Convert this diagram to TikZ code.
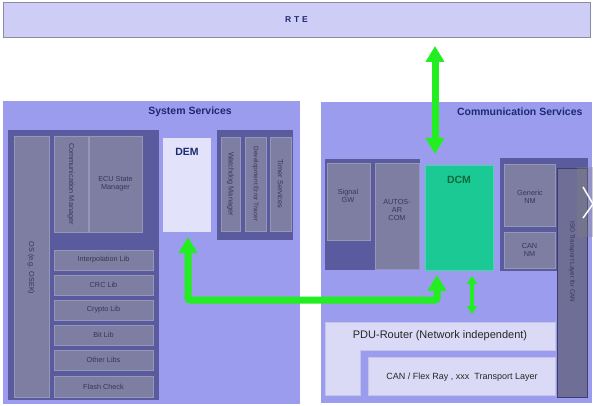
\documentclass[tikz,border=0pt]{standalone}
\usepackage{fontspec}
\setmainfont{Liberation Sans}
\usetikzlibrary{arrows.meta,calc}
\definecolor{lav}{HTML}{9C9CEE}
\definecolor{darkf}{HTML}{5A5A9E}
\definecolor{grayb}{HTML}{7E7EA2}
\definecolor{grayl}{HTML}{9696B6}
\definecolor{colC}{HTML}{6E6E96}
\definecolor{colL}{HTML}{3E3E72}
\definecolor{demC}{HTML}{E2E2FA}
\definecolor{pduC}{HTML}{DADAF7}
\definecolor{pduL}{HTML}{C4C4EC}
\definecolor{rteC}{HTML}{CDCDF6}
\definecolor{rteL}{HTML}{8A8AA4}
\definecolor{dcmC}{HTML}{1AC993}
\definecolor{dcmL}{HTML}{46D6AA}
\definecolor{dcmT}{HTML}{0B6A3C}
\definecolor{navy}{HTML}{1C2A6E}
\definecolor{txtg}{HTML}{363654}
\definecolor{grn}{HTML}{22EE22}
\tikzset{
  box/.style={anchor=north west, inner sep=0pt, outer sep=0pt},
  lavbox/.style={box, fill=lav},
  darkbox/.style={box, fill=darkf},
  graybox/.style={box, fill=grayb, draw=grayl, line width=0.6pt},
  smalltxt/.style={text=txtg, font=\fontsize{7.3}{8.3}\selectfont, align=center},
  vtxt/.style={smalltxt, rotate=-90},
  title/.style={text=navy, font=\bfseries\fontsize{10.5}{12}\selectfont},
  garrow/.style={draw=grn, line width=7pt, {Triangle[width=18pt,length=16pt]}-{Triangle[width=18pt,length=16pt]}},
  sarrow/.style={draw=grn, line width=4pt, {Triangle[width=10pt,length=8pt]}-{Triangle[width=10pt,length=8pt]}}
}
\begin{document}
\begin{tikzpicture}[x=1pt,y=-1pt]
\useasboundingbox (0,0) rectangle (593,406);
\fill[white] (0,0) rectangle (593,406);

% RTE
\node[box, fill=rteC, draw=rteL, line width=0.8pt, minimum width=587pt, minimum height=35pt] (rte) at (3,2) {};
\node[text=navy, font=\bfseries\fontsize{8.5}{10}\selectfont] (rtet) at (rte.center) {R\,\,T\,\,E};

% System Services
\node[lavbox, minimum width=297pt, minimum height=303pt] (sys) at (3,101) {};
\node[title] (syst) at (190,112) {System Services};
\node[darkbox, minimum width=151pt, minimum height=270pt] (sysl) at (8,130) {};
\node[graybox, minimum width=35pt, minimum height=261pt] (os) at (14,136) {};
\node[vtxt] (ost) at (31,268) {OS (e.g. OSEK)};
\node[graybox, minimum width=34pt, minimum height=96pt] (comm) at (54,136) {};
\node[vtxt] (commt) at (71,184) {Communication Manager};
\node[graybox, minimum width=53pt, minimum height=96pt] (ecu) at (89,136) {};
\node[smalltxt] (ecut) at (ecu.center) {ECU State\\Manager};
\node[graybox, minimum width=99pt, minimum height=20pt] (l1) at (54,250) {};
\node[smalltxt] at (l1.center) {Interpolation Lib};
\node[graybox, minimum width=99pt, minimum height=20pt] (l2) at (54,275) {};
\node[smalltxt] at (l2.center) {CRC Lib};
\node[graybox, minimum width=99pt, minimum height=20pt] (l3) at (54,300) {};
\node[smalltxt] at (l3.center) {Crypto Lib};
\node[graybox, minimum width=99pt, minimum height=20pt] (l4) at (54,325) {};
\node[smalltxt] at (l4.center) {Bit Lib};
\node[graybox, minimum width=99pt, minimum height=20pt] (l5) at (54,350) {};
\node[smalltxt] at (l5.center) {Other Libs};
\node[graybox, minimum width=99pt, minimum height=21pt] (l6) at (54,376) {};
\node[smalltxt] at (l6.center) {Flash Check};

\node[box, fill=demC, minimum width=48pt, minimum height=94pt] (dem) at (163,138) {};
\node[title] (demt) at (187,152) {DEM};

\node[darkbox, minimum width=76pt, minimum height=110pt] (sysr) at (217,130) {};
\node[graybox, minimum width=19pt, minimum height=94pt] (wdg) at (221,137) {};
\node[vtxt] at (wdg.center) {Watchdog Manager};
\node[graybox, minimum width=21pt, minimum height=94pt] (det) at (245,137) {};
\node[vtxt, font=\fontsize{6.5}{7.5}\selectfont] at (det.center) {Development Error Tracer};
\node[graybox, minimum width=21pt, minimum height=94pt] (tim) at (270,137) {};
\node[vtxt] at (tim.center) {Timer Services};

% Communication Services
\node[lavbox, minimum width=271pt, minimum height=301pt] (com) at (321,102) {};
\node[title, anchor=east] (comt) at (586,112) {Communication Services};
\node[darkbox, minimum width=95pt, minimum height=111pt] (coml) at (325,159) {};
\node[graybox, minimum width=43pt, minimum height=77pt] (sgw) at (327,163) {};
\node[smalltxt] at (348,196) {Signal\\GW};
\node[graybox, minimum width=44pt, minimum height=106pt] (acom) at (375,163) {};
\node[smalltxt] at (397,210) {AUTOS-\\AR\\COM};
\node[box, fill=dcmC, draw=dcmL, line width=1pt, minimum width=68pt, minimum height=105pt] (dcm) at (425,165) {};
\node[text=dcmT, font=\bfseries\fontsize{10.5}{12}\selectfont] (dcmt) at (459,180) {DCM};

\node[darkbox, minimum width=88pt, minimum height=113pt] (comr) at (500,158) {};
\node[graybox, minimum width=51pt, minimum height=62pt] (gnm) at (504,164) {};
\node[smalltxt] at (530,197) {Generic\\NM};
\node[graybox, minimum width=51pt, minimum height=36pt] (cnm) at (504,232) {};
\node[smalltxt] at (cnm.center) {CAN\\NM};
\node[box, fill=colC, draw=colL, line width=1pt, minimum width=30pt, minimum height=229pt] (tp) at (557,168) {};
\node[vtxt, font=\fontsize{6.3}{7}\selectfont] at (572,262) {ISO Transport Layer for CAN};

% PDU Router (L shape)
\fill[pduC, draw=pduL, line width=0.6pt] (325,322) -- (555,322) -- (555,350) -- (360,350) -- (360,395) -- (325,395) -- cycle;
\node[font=\fontsize{11}{13}\selectfont, text=black!85] (pdut) at (440,336) {PDU-Router (Network independent)};
\node[box, fill=pduC, draw=pduL, line width=0.6pt, minimum width=187pt, minimum height=38pt] (can) at (368,357) {};
\node[font=\fontsize{9}{11}\selectfont, text=black!85] (cant) at (462,377) {CAN / Flex Ray , xxx\ \ Transport Layer};

% green arrows
\coordinate (a1) at (435,40);
\draw[garrow] ([yshift=-9pt]rte.south -| a1) -- ([yshift=11pt]dcm.north -| a1);
\coordinate (a2) at (437,300);
\coordinate (bend) at (188,300);
\draw[garrow, rounded corners=2pt] ([yshift=-5pt]dcm.south -| a2) |- (bend) -- ([yshift=-5pt]dem.south -| bend);
\coordinate (a4) at (472,300);
\coordinate (pdutop) at (472,322);
\draw[sarrow] ([yshift=-6pt]dcm.south -| a4) -- ([yshift=8pt]pdutop);

% viewer overlay chevron
\fill[gray, opacity=0.35] (577,167) rectangle (593,237);
\draw[white, line width=1.5pt] (583,187) -- (593,204) -- (583,218);
\end{tikzpicture}
\end{document}
